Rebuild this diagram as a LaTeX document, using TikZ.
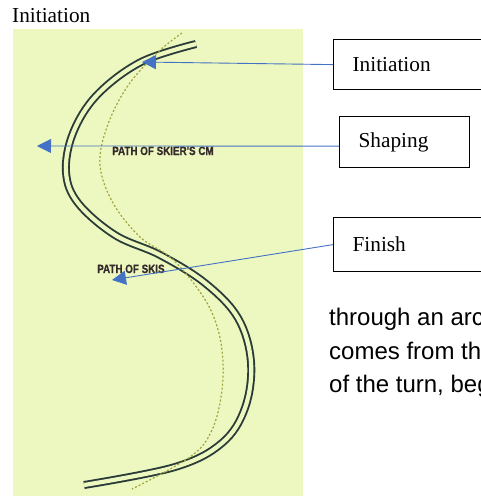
\documentclass[tikz,border=0pt]{standalone}
\usepackage{fontspec}
\setmainfont{Liberation Serif}
\newfontfamily\armfont{Liberation Sans}
\newfontfamily\skifont[FakeStretch=0.82, FakeBold=0.6]{Liberation Sans}
\usetikzlibrary{arrows.meta}

\definecolor{pagelime}{RGB}{237,247,192}
\definecolor{skiink}{RGB}{42,60,56}
\definecolor{cmdots}{RGB}{160,165,60}
\definecolor{callblue}{RGB}{68,114,196}
\definecolor{printbrown}{RGB}{52,42,42}

\tikzset{
    labelbox/.style={draw, line width=1.2pt, inner xsep=19pt, inner ysep=0pt, align=left,
        font=\fontsize{21.3pt}{24pt}\selectfont},
    callout/.style={callblue, line width=0.9pt, -{Triangle[length=14pt,width=14pt]}},
    pathtag/.style={printbrown, font=\skifont\bfseries\fontsize{12pt}{13pt}\selectfont, inner sep=0pt}
}

\begin{document}
\begin{tikzpicture}[x=1pt, y=-1pt]
    \useasboundingbox (0,0) rectangle (481,496);
    \clip (0,0) rectangle (481,496);
    \fill [pagelime] (13,29) rectangle (303,496);
    \node[anchor=base west, inner sep=0pt, font=\fontsize{21.3pt}{24pt}\selectfont] (title) at (12,22) {Initiation};
    % ski tracks (double line) and the path of the centre of mass
    \draw [skiink, line width=1.9pt, double=pagelime, double distance=4.2pt]
        plot [smooth, tension=0.6] coordinates {(196,44) (141,62) (97,95) (73,133) (66,172) (78,203) (115,235) (160,255) (205,283) (238,318) (251,362) (245,408) (222,443) (175,467) (84,485)};
    \draw [cmdots, line width=1.2pt, dash pattern=on 2pt off 2pt]
        plot [smooth, tension=0.6] coordinates {(182,33) (157,53) (127,87) (107,127) (100,165) (113,203) (140,237) (170,257) (195,285) (213,315) (222,350) (222,390) (212,430) (190,457) (132,489)};
    \node[pathtag, anchor=base west] (cmtag) at (112,155) {PATH OF SKIER'S CM};
    \node[pathtag, anchor=base west] (skitag) at (97,273) {PATH OF SKIS};
    \node[labelbox, anchor=north west, minimum height=50pt, text width=140pt] (initbox) at (333,39) {Initiation};
    \node[labelbox, anchor=north west, minimum height=51pt, text width=92pt] (shapebox) at (339,116) {Shaping};
    \node[labelbox, anchor=north west, minimum height=54pt, text width=140pt] (finbox) at (333,217) {Finish};
    \coordinate (inittip) at (142,62);
    \coordinate (shapetip) at (37,146);
    \coordinate (fintip) at (112,280);
    \draw [callout] (initbox.west) -- (inittip);
    \draw [callout] ([yshift=-4pt]shapebox.west) -- (shapetip);
    \draw [callout] (finbox.west) -- (fintip);
    \node[anchor=north west, inner sep=0pt, align=left, font=\armfont\fontsize{24pt}{33.5pt}\selectfont] (bodytext) at (329,308) {through an arc\\comes from th\\of the turn, beg};
\end{tikzpicture}
\end{document}
